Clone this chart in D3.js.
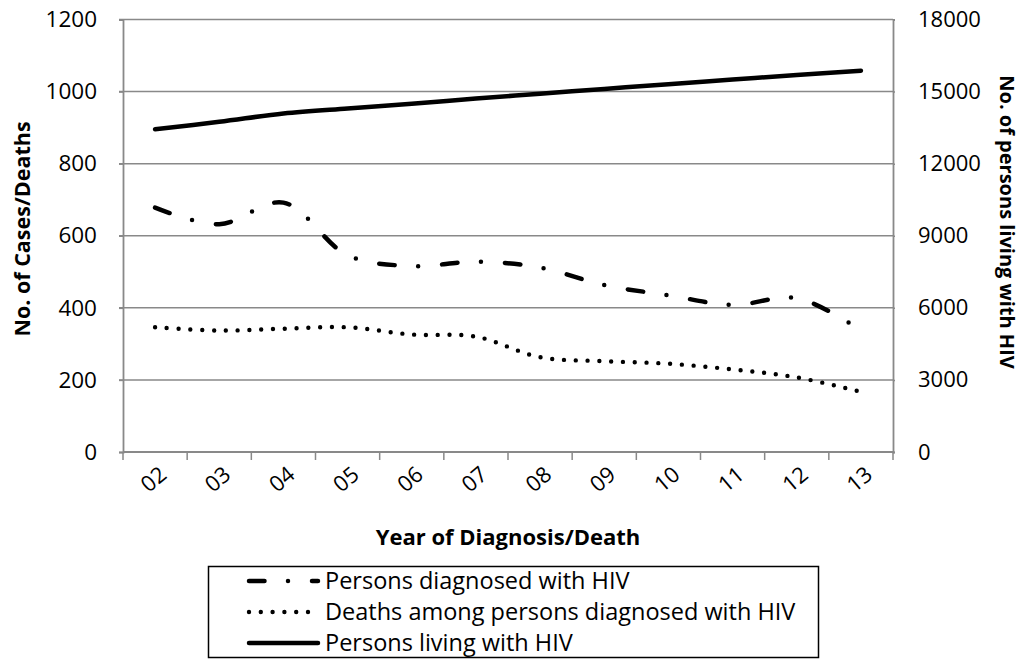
<!DOCTYPE html>
<html><head><meta charset="utf-8">
<script src="https://cdn.jsdelivr.net/npm/d3@7"></script>
<style>body{margin:0;background:#fff} text{font-family:'Open Sans',sans-serif;fill:#000}</style>
</head><body><svg id="c" width="1025" height="660"></svg>
<script>
const years = ["02","03","04","05","06","07","08","09","10","11","12","13"];
const diagnosed = [678,632,692,546,516,528,512,463,435,408,427,338];
const deaths = [346,337,342,346,326,320,263,252,245,229,207,167];
const living = [13430,13740,14090,14300,14490,14710,14910,15110,15310,15500,15690,15870];
const leftTicks = [0,200,400,600,800,1000,1200];
const rightTicks = [0,3000,6000,9000,12000,15000,18000];
const seriesNames = ["Persons diagnosed with HIV","Deaths among persons diagnosed with HIV","Persons living with HIV"];
const xTitle = "Year of Diagnosis/Death";
const yLeftTitle = "No. of Cases/Deaths";
const yRightTitle = "No. of persons living with HIV";

const svg = d3.select("#c");
const L = 123, R = 893, T = 19.5, B = 452;
const grey = "#898989";
const x = d3.scaleBand().domain(years).range([L, R]);
const yL = d3.scaleLinear().domain([0,1200]).range([B, T]);
const yR = d3.scaleLinear().domain([0,18000]).range([B, T]);
const fmt = d3.format("d");

// gridlines
svg.append("g").selectAll("line").data(leftTicks.filter(d=>d>0)).join("line")
  .attr("x1", L-4).attr("x2", R).attr("y1", d=>yL(d)).attr("y2", d=>yL(d))
  .attr("stroke", grey).attr("stroke-width", 1.5);

// left axis
const gl = svg.append("g").attr("transform", `translate(${L},0)`)
  .call(d3.axisLeft(yL).tickValues(leftTicks).tickFormat(fmt).tickSize(4).tickPadding(22));
gl.select(".domain").attr("stroke", grey).attr("stroke-width", 1.8);
gl.selectAll(".tick line").attr("stroke", grey).attr("stroke-width", 1.5);
gl.selectAll(".tick text").style("font-size","22.5px").style("font-family","'Open Sans',sans-serif").attr("fill","#000");

// right axis
const gr = svg.append("g").attr("transform", `translate(${R},0)`)
  .call(d3.axisRight(yR).tickValues(rightTicks).tickFormat(fmt).tickSize(2).tickPadding(23));
gr.select(".domain").attr("stroke", grey).attr("stroke-width", 1.8);
gr.selectAll(".tick line").attr("stroke", grey).attr("stroke-width", 1.5);
gr.selectAll(".tick text").style("font-size","22px").style("font-family","'Open Sans',sans-serif").attr("fill","#000");

// bottom axis
const gb = svg.append("g").attr("transform", `translate(0,${B})`);
gb.append("line").attr("x1", L).attr("x2", R).attr("stroke", grey).attr("stroke-width", 1.8);
const bounds = years.map(d=>x(d)).concat([R]);
gb.selectAll("line.tk").data(bounds).join("line").attr("class","tk")
  .attr("x1", d=>d).attr("x2", d=>d).attr("y1", 0).attr("y2", 8)
  .attr("stroke", grey).attr("stroke-width", 1.5);
gb.selectAll("text").data(years).join("text")
  .attr("transform", d=>`translate(${x(d)+x.bandwidth()/2+13},${25}) rotate(-40)`)
  .attr("text-anchor","end").style("font-size","22px").text(d=>d);

// lines
const cx = d => x(d) + x.bandwidth()/2;
const curve = d3.curveCatmullRom.alpha(0.5);
const lineL = d3.line().x((d,i)=>cx(years[i])).y(d=>yL(d)).curve(curve);
const lineR = d3.line().x((d,i)=>cx(years[i])).y(d=>yR(d)).curve(curve);
const styles = [
  {w:4.5, dash:"15.5,23.5,0,24"},
  {w:4.4, dash:"0,11.8"},
  {w:4.5, dash:null}
];
svg.append("path").attr("d", lineL(diagnosed)).attr("fill","none").attr("stroke","#000")
  .attr("stroke-width", styles[0].w).attr("stroke-dasharray", styles[0].dash).attr("stroke-linecap","round");
svg.append("path").attr("d", lineL(deaths)).attr("fill","none").attr("stroke","#000")
  .attr("stroke-width", styles[1].w).attr("stroke-dasharray", styles[1].dash).attr("stroke-linecap","round");
svg.append("path").attr("d", lineR(living)).attr("fill","none").attr("stroke","#000")
  .attr("stroke-width", styles[2].w).attr("stroke-linecap","round");

// titles
svg.append("text").attr("x", 508).attr("y", 545).attr("text-anchor","middle")
  .style("font-size","22px").style("font-weight","bold").text(xTitle);
svg.append("text").attr("transform", "translate(30,229) rotate(-90)").attr("text-anchor","middle")
  .style("font-size","21.5px").style("font-weight","bold").text(yLeftTitle);
svg.append("text").attr("transform", "translate(1000,222) rotate(90)").attr("text-anchor","middle")
  .style("font-size","20px").style("font-weight","bold").text(yRightTitle);

// legend
const lg = svg.append("g");
lg.append("rect").attr("x", 208.5).attr("y", 566.5).attr("width", 610).attr("height", 91)
  .attr("fill","#fff").attr("stroke","#000").attr("stroke-width", 1.5);
const rows = [581, 612, 643];
seriesNames.forEach((n,i)=>{
  lg.append("line").attr("x1", 249).attr("x2", 318).attr("y1", rows[i]).attr("y2", rows[i])
    .attr("stroke","#000").attr("stroke-width", styles[i].w).attr("stroke-linecap","round")
    .attr("stroke-dasharray", styles[i].dash);
  lg.append("text").attr("x", 325).attr("y", rows[i] + 8.4)
    .style("font-size","23.5px").text(n);
});
</script></body></html>
